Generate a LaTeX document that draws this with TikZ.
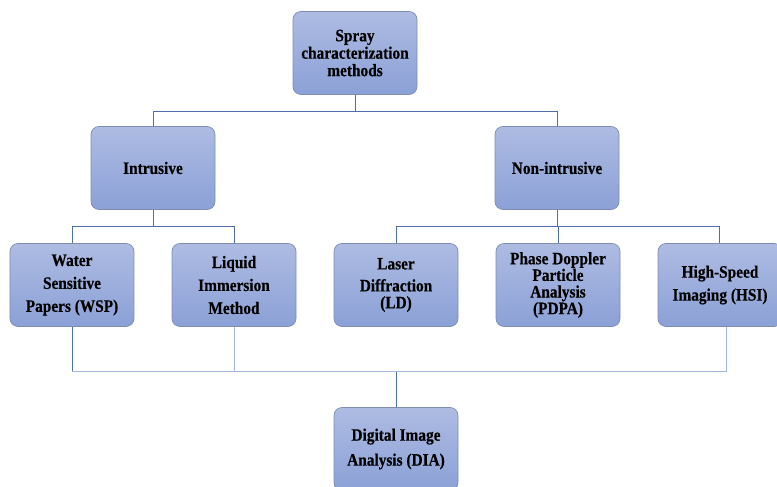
\documentclass[tikz,border=0pt]{standalone}
\usepackage{fontspec}
\setmainfont{Liberation Serif}
\newfontfamily\boxfont[FakeStretch=0.88,FakeBold=0.4]{Liberation Serif}
\usetikzlibrary{positioning}

\definecolor{boxtop}{HTML}{AEBCE3}
\definecolor{boxbot}{HTML}{8BA0D6}
\definecolor{boxline}{HTML}{7D8DB3}
\definecolor{linkblue}{HTML}{4E6FA6}
\definecolor{linklight}{HTML}{A3B6DB}

\begin{document}
\begin{tikzpicture}[
    x=1bp,y=-1bp,
    node distance=162bp,
    box/.style={rectangle,rounded corners=8bp,draw=boxline,line width=0.7bp,top color=boxtop,bottom color=boxbot,
        minimum width=124bp,minimum height=83bp,align=center,
        font={\boxfont\bfseries\fontsize{17.5}{17.5}\selectfont\lineskiplimit=-50pt}},
    link/.style={draw=linkblue,line width=0.9bp},
    faint/.style={draw=linklight,line width=0.9bp}
]
    \useasboundingbox (0,0) rectangle (777,487);

    \node[box] (spray) at (355,53) {Spray\\characterization\\methods};
    \node[box] (intrusive) at (153,168) {Intrusive};
    \node[box] (nonintrusive) at (557,168) {Non-intrusive};

    \node[box] (wsp) at (72,285) {Water\\[5.5bp]Sensitive\\[5.5bp]Papers (WSP)};
    \node[box,right of=wsp] (lim) {Liquid\\[5.5bp]Immersion\\[5.5bp]Method};
    \node[box,right of=lim] (ld) {Laser\\[4.5bp]Diffraction\\[-0.5bp](LD)};
    \node[box,right of=ld] (pdpa) {Phase Doppler\\[-0.8bp]Particle\\[-0.8bp]Analysis\\[-0.8bp](PDPA)};
    \node[box,right of=pdpa] (hsi) {High-Speed\\[5.5bp]Imaging (HSI)};

    \node[box] (dia) at (396,449) {Digital Image\\[7.5bp]Analysis (DIA)};

    \draw[link] (spray.south) -- ++(0,17) -| (intrusive.north);
    \draw[link] (spray.south) -- ++(0,17) -| (nonintrusive.north);
    \draw[link] (intrusive.south) -- ++(0,17) -| (wsp.north);
    \draw[link] (intrusive.south) -- ++(0,17) -| (lim.north);
    \draw[link] (nonintrusive.south) -- ++(0,17) -| (ld.north);
    \draw[link] (nonintrusive.south) -- ++(0,17) -| (pdpa.north);
    \draw[link] (nonintrusive.south) -- ++(0,17) -| ([xshift=-1bp]hsi.north);

    \draw[link] (wsp.south) -- ++(0,45) coordinate (merge);
    \draw[faint] (merge) -| ([xshift=6bp]hsi.south);
    \draw[faint] (lim.south) -- (lim.south |- merge);
    \draw[link] (dia.north) -- (dia.north |- merge);
\end{tikzpicture}
\end{document}
